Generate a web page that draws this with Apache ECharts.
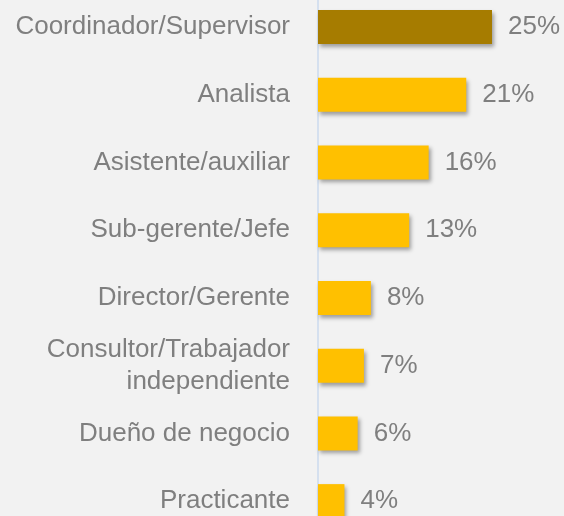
<!DOCTYPE html>
<html>
<head>
<meta charset="utf-8">
<script src="https://cdn.jsdelivr.net/npm/echarts@6/dist/echarts.min.js"></script>
<style>
  html, body { margin: 0; padding: 0; background: #f2f2f2; width: 564px; height: 516px; overflow: hidden; }
  /* the last bar runs off the bottom of the picture, so the canvas is taller and shifted */
  #chart { position: absolute; left: 0; top: -7px; width: 564px; height: 560px; }
</style>
</head>
<body>
<div id="chart"></div>
<script>
// puestos, de arriba hacia abajo
const categories = [
  'Coordinador/Supervisor',
  'Analista',
  'Asistente/auxiliar',
  'Sub-gerente/Jefe',
  'Director/Gerente',
  'Consultor/Trabajador\nindependiente',
  'Dueño de negocio',
  'Practicante'
]
const values = [25.0, 21.3, 15.9, 13.1, 7.6, 6.6, 5.7, 3.8]

const textColor = '#7f7f7f'
const font = '"Liberation Sans", Arial, sans-serif'

const chart = echarts.init(document.getElementById('chart'))
chart.setOption({
  backgroundColor: '#f2f2f2',
  animation: false,
  grid: { left: 318, top: 0, width: 243.6, height: 542 },
  xAxis: {
    type: 'value',
    min: 0,
    max: 35,
    show: false
  },
  yAxis: {
    type: 'category',
    data: categories,
    inverse: true,
    axisLine: { show: true, lineStyle: { color: '#d5e0ef', width: 2 } },
    axisTick: { show: false },
    axisLabel: {
      margin: 28,
      color: textColor,
      fontFamily: font,
      fontSize: 26,
      lineHeight: 32,
      align: 'right'
    }
  },
  series: [{
    type: 'bar',
    data: values,
    barWidth: 34,
    itemStyle: {
      color: p => p.dataIndex === 0 ? '#a67c00' : '#ffc000',
      shadowColor: 'rgba(0,0,0,0.35)',
      shadowBlur: 4,
      shadowOffsetX: 2,
      shadowOffsetY: 3
    },
    label: {
      show: true,
      position: 'right',
      distance: 16,
      color: textColor,
      fontFamily: font,
      fontSize: 26,
      formatter: p => Math.round(p.value) + '%'
    }
  }]
})
</script>
</body>
</html>
